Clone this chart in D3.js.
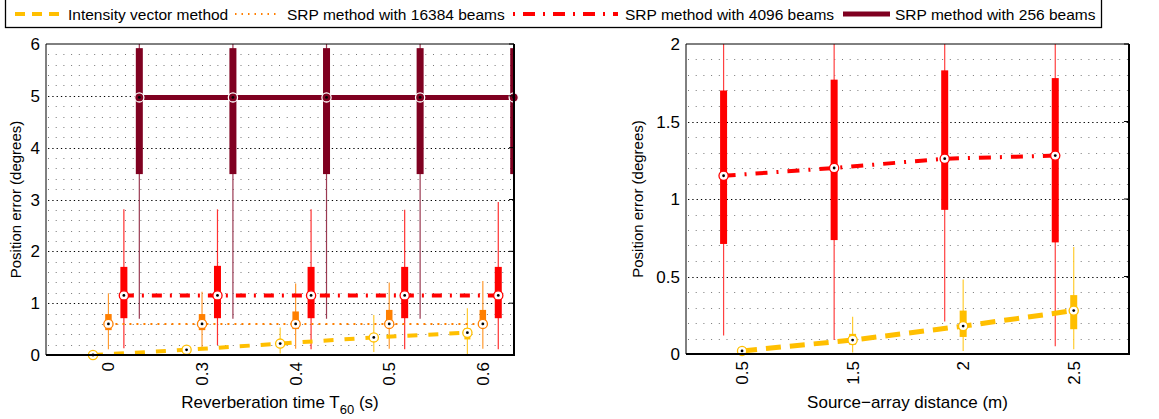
<!DOCTYPE html>
<html>
<head>
<meta charset="utf-8">
<script src="https://cdn.jsdelivr.net/npm/d3@7"></script>
<style>
  body { margin: 0; background: #fff; }
  svg { font-family: "Liberation Sans", Arial, sans-serif; }
</style>
</head>
<body>
<div id="chart"></div>
<script>
// ---- data ----
var t60Labels = ["0", "0.3", "0.4", "0.5", "0.6"];
var distLabels = ["0.5", "1.5", "2", "2.5"];

// left panel: reverberation time
var ivMedL = [0, 0.1, 0.22, 0.34, 0.43];
var ivQ1L = [0, 0.06, 0.17, 0.25, 0.3];
var ivQ3L = [0, 0.13, 0.27, 0.38, 0.52];
var ivLoL = [0, 0.03, 0.03, 0.06, 0.02];
var ivHiL = [0, 0.17, 0.53, 0.77, 0.9];

var b16kMed = [0.6, 0.6, 0.6, 0.6, 0.6];
var b16kQ1 = [0.48, 0.48, 0.5, 0.52, 0.52];
var b16kQ3 = [0.79, 0.79, 0.84, 0.87, 0.87];
var b16kLo = [0.11, 0.1, 0.12, 0.12, 0.12];
var b16kHi = [1.19, 1.22, 1.38, 1.4, 1.43];

var b4kMedL = [1.15, 1.15, 1.15, 1.15, 1.15];
var b4kQ1L = [0.71, 0.71, 0.71, 0.71, 0.71];
var b4kQ3L = [1.7, 1.72, 1.7, 1.7, 1.7];
var b4kLoL = [0.13, 0.19, 0.11, 0.11, 0.11];
var b4kHiL = [2.81, 2.81, 2.81, 2.8, 2.95];

var b256Med = [4.97, 4.97, 4.97, 4.97, 4.97];
var b256Q1 = [3.49, 3.49, 3.49, 3.49, 3.49];
var b256Q3 = [5.92, 5.92, 5.92, 5.92, 5.92];
var b256Lo = [0.7, 0.7, 0.7, 0.7, 0.7];
var b256Hi = [6.5, 6.5, 6.5, 6.5, 6.5];

// right panel: source-array distance
var b4kMedR = [1.15, 1.2, 1.26, 1.28];
var b4kQ1R = [0.71, 0.735, 0.93, 0.72];
var b4kQ3R = [1.7, 1.77, 1.83, 1.78];
var b4kLoR = [0.12, 0.09, 0.21, 0.05];
var b4kHiR = [2.3, 2.3, 2.3, 2.3];

var ivMedR = [0.02, 0.09, 0.18, 0.28];
var ivQ1R = [0.02, 0.06, 0.11, 0.16];
var ivQ3R = [0.02, 0.13, 0.28, 0.38];
var ivLoR = [0.01, 0.01, 0.02, 0.03];
var ivHiR = [0.02, 0.24, 0.48, 0.69];

var colIV = "#ffbf00", col16k = "#ff7f00", col4k = "#ff0000", col256 = "#7f0020";

var width = 1159, height = 419;
var svg = d3.select("#chart").append("svg")
  .attr("width", width)
  .attr("height", height);

function pack(med, q1, q3, lo, hi) {
  return med.map(function(m, i) {
    return { i: i + 1, med: m, q1: q1[i], q3: q3[i], lo: lo[i], hi: hi[i] };
  });
}

function panel(opt) {
  var x = d3.scaleLinear().domain(opt.xDomain).range([opt.left, opt.right]);
  var y = d3.scaleLinear().domain(opt.yDomain).range([opt.bottom, opt.top]);
  var g = svg.append("g");

  // dotted horizontal grid: minor gray, major black
  g.append("g").selectAll("line")
    .data(d3.range(opt.yDomain[0], opt.yDomain[1] + 1e-9, opt.minor).filter(function(v) {
      return Math.abs(v / opt.major - Math.round(v / opt.major)) > 1e-6;
    }))
    .enter().append("line")
    .attr("x1", opt.left + 2).attr("x2", opt.right)
    .attr("y1", function(d) { return Math.round(y(d)) + 0.5; })
    .attr("y2", function(d) { return Math.round(y(d)) + 0.5; })
    .attr("stroke", "#777").attr("stroke-width", 1)
    .attr("stroke-dasharray", "1,6.7");
  g.append("g").selectAll("line")
    .data(d3.range(opt.yDomain[0] + opt.major, opt.yDomain[1], opt.major))
    .enter().append("line")
    .attr("x1", opt.left + 2).attr("x2", opt.right)
    .attr("y1", function(d) { return Math.round(y(d)) + 0.5; })
    .attr("y2", function(d) { return Math.round(y(d)) + 0.5; })
    .attr("stroke", "#000").attr("stroke-width", 1)
    .attr("stroke-dasharray", "1.3,3");

  var clipId = "clip" + opt.id;
  svg.append("clipPath").attr("id", clipId).append("rect")
    .attr("x", opt.left).attr("y", opt.top)
    .attr("width", opt.right - opt.left).attr("height", opt.bottom - opt.top);
  var plot = g.append("g").attr("clip-path", "url(#" + clipId + ")");

  opt.series.forEach(function(s) {
    var data = pack(s.med, s.q1, s.q3, s.lo, s.hi);
    var bx = function(d) { return x(d.i + s.off); };
    var sg = plot.append("g");
    sg.selectAll(".wh").data(data).enter().append("line")
      .attr("x1", bx).attr("x2", bx)
      .attr("y1", function(d) { return y(d.lo); })
      .attr("y2", function(d) { return y(d.hi); })
      .attr("stroke", s.whisker || s.color).attr("stroke-width", 1.2);
    sg.selectAll(".box").data(data).enter().append("rect")
      .attr("x", function(d) { return bx(d) - s.bw / 2; })
      .attr("width", s.bw)
      .attr("y", function(d) { return y(d.q3); })
      .attr("height", function(d) { return y(d.q1) - y(d.q3); })
      .attr("fill", s.color);
  });

  // median connecting lines
  opt.series.forEach(function(s) {
    var data = pack(s.med, s.q1, s.q3, s.lo, s.hi);
    plot.append("path")
      .datum(data)
      .attr("fill", "none")
      .attr("stroke", s.color)
      .attr("stroke-width", s.lw)
      .attr("stroke-dasharray", s.dash)
      .attr("d", d3.line()
        .x(function(d) { return x(d.i + s.off); })
        .y(function(d) { return y(d.med); }));
  });

  // median markers
  opt.series.forEach(function(s) {
    var data = pack(s.med, s.q1, s.q3, s.lo, s.hi);
    var mg = g.append("g");
    mg.selectAll("circle.ring").data(data).enter().append("circle")
      .attr("cx", function(d) { return x(d.i + s.off); })
      .attr("cy", function(d) { return y(d.med); })
      .attr("r", 4.6)
      .attr("fill", s.dark ? s.color : "#fff")
      .attr("stroke", s.dark ? "#fff" : s.color)
      .attr("stroke-width", 1.3);
    mg.selectAll("circle.dot").data(data).enter().append("circle")
      .attr("cx", function(d) { return x(d.i + s.off); })
      .attr("cy", function(d) { return y(d.med); })
      .attr("r", 1.4)
      .attr("fill", "#000");
  });

  // frame
  g.append("line").attr("x1", opt.left).attr("x2", opt.right).attr("y1", opt.top).attr("y2", opt.top)
    .attr("stroke", "#000").attr("stroke-width", 1);
  g.append("line").attr("x1", opt.left).attr("x2", opt.left).attr("y1", opt.top).attr("y2", opt.bottom)
    .attr("stroke", "#000").attr("stroke-width", 1);
  g.append("line").attr("x1", opt.right).attr("x2", opt.right).attr("y1", opt.top).attr("y2", opt.bottom + 1)
    .attr("stroke", "#000").attr("stroke-width", 2);
  g.append("line").attr("x1", opt.left).attr("x2", opt.right + 1).attr("y1", opt.bottom).attr("y2", opt.bottom)
    .attr("stroke", "#000").attr("stroke-width", 2);

  // y axis
  var yTicks = d3.range(opt.yDomain[0], opt.yDomain[1] + 1e-9, opt.major);
  var ya = g.append("g").style("font-size", "17px");
  ya.selectAll("text").data(yTicks).enter().append("text")
    .attr("x", opt.left - 6)
    .attr("y", function(d) { return y(d) + 6; })
    .attr("text-anchor", "end")
    .text(function(d) { return d3.format("~g")(d); });
  ya.selectAll("line.rt").data(yTicks).enter().append("line")
    .attr("x1", opt.right - 5).attr("x2", opt.right)
    .attr("y1", function(d) { return y(d); }).attr("y2", function(d) { return y(d); })
    .attr("stroke", "#000");

  // x axis (rotated labels)
  g.append("g").style("font-size", "17px").selectAll("text")
    .data(opt.labels).enter().append("text")
    .attr("transform", function(d, i) {
      return "translate(" + (x(i + 1) + 6) + "," + (opt.bottom + 7) + ") rotate(-90)";
    })
    .attr("text-anchor", "end")
    .text(function(d) { return d; });

  // axis titles
  g.append("text")
    .attr("transform", "translate(" + opt.yLabelX + "," + ((opt.top + opt.bottom) / 2) + ") rotate(-90)")
    .attr("text-anchor", "middle")
    .style("font-size", "15px")
    .text("Position error (degrees)");
  var xt = g.append("text")
    .attr("x", (opt.left + opt.right) / 2)
    .attr("y", 408)
    .attr("text-anchor", "middle")
    .style("font-size", "17px");
  opt.xTitle(xt);
}

panel({
  id: "L", left: 46, right: 514, top: 44, bottom: 355,
  xDomain: [0.333, 5.333], yDomain: [0, 6], major: 1, minor: 0.2,
  labels: t60Labels, yLabelX: 21,
  xTitle: function(t) {
    t.append("tspan").text("Reverberation time T");
    t.append("tspan").attr("dy", 6).style("font-size", "13px").text("60");
    t.append("tspan").attr("dy", -6).text(" (s)");
  },
  series: [
    { med: b256Med, q1: b256Q1, q3: b256Q3, lo: b256Lo, hi: b256Hi, off: 0.33, color: col256, whisker: "#9a3a52", bw: 7, lw: 5, dash: null, dark: true },
    { med: b4kMedL, q1: b4kQ1L, q3: b4kQ3L, lo: b4kLoL, hi: b4kHiL, off: 0.165, color: col4k, whisker: "#ff3030", bw: 7, lw: 4, dash: "10,8,2,8" },
    { med: b16kMed, q1: b16kQ1, q3: b16kQ3, lo: b16kLo, hi: b16kHi, off: 0, color: col16k, whisker: "#ff9a30", bw: 6.5, lw: 2, dash: "2,5" },
    { med: ivMedL, q1: ivQ1L, q3: ivQ3L, lo: ivLoL, hi: ivHiL, off: -0.165, color: colIV, whisker: "#ffcc33", bw: 6, lw: 4, dash: "10,11" }
  ]
});

panel({
  id: "R", left: 686, right: 1129, top: 44, bottom: 354,
  xDomain: [0.493, 4.5], yDomain: [0, 2], major: 0.5, minor: 0.1,
  labels: distLabels, yLabelX: 643,
  xTitle: function(t) { t.text("Source\u2212array distance (m)"); },
  series: [
    { med: b4kMedR, q1: b4kQ1R, q3: b4kQ3R, lo: b4kLoR, hi: b4kHiR, off: -0.167, color: col4k, whisker: "#ff4040", bw: 7, lw: 4, dash: "12,9,2,9" },
    { med: ivMedR, q1: ivQ1R, q3: ivQ3R, lo: ivLoR, hi: ivHiR, off: 0, color: colIV, whisker: "#ffcc33", bw: 7, lw: 5, dash: "15,9" }
  ]
});

// legend
var legendItems = ["Intensity vector method", "SRP method with 16384 beams", "SRP method with 4096 beams", "SRP method with 256 beams"];
var legendColors = [colIV, col16k, col4k, col256];
var legendDash = ["10,7", "1.5,5", "2,8,12,8", null];
var legendWidths = [4, 2, 4, 5];
var legendX = [15, 235, 513, 843];
var legendX2 = [60, 278, 618, 890];
var textX = [68, 287, 625, 895];

var leg = svg.append("g");
leg.append("rect").attr("x", 5.5).attr("y", -1).attr("width", 1096).attr("height", 28.5)
  .attr("fill", "#fff").attr("stroke", "#000").attr("stroke-width", 1.3);
legendItems.forEach(function(name, i) {
  leg.append("line")
    .attr("x1", legendX[i]).attr("x2", legendX2[i])
    .attr("y1", 14).attr("y2", 14)
    .attr("stroke", legendColors[i])
    .attr("stroke-width", legendWidths[i])
    .attr("stroke-dasharray", legendDash[i]);
  leg.append("text")
    .attr("x", textX[i])
    .attr("y", 19.5)
    .style("font-size", "15.5px")
    .text(name);
});
</script>
</body>
</html>
